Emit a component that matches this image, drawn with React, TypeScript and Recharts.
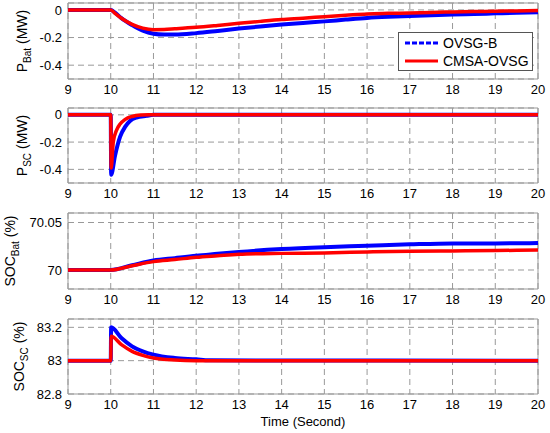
import React from 'react';
import { LineChart, Line, XAxis, YAxis, CartesianGrid, ReferenceArea, Legend } from 'recharts';

const FONT = '"Liberation Sans", Arial, sans-serif';
const BLUE = '#0000ff';
const RED = '#ff0000';

const seriesNames = ['OVSG-B', 'CMSA-OVSG'];
const timeTicks = [9, 10, 11, 12, 13, 14, 15, 16, 17, 18, 19, 20];

// battery power (MW)
const pBatTime = [9, 10, 10.1, 10.25, 10.5, 10.75, 11, 11.25, 11.5, 12, 12.5, 13, 13.5, 14, 14.5, 15, 15.5, 16, 16.5, 17, 17.5, 18, 18.5, 19, 19.5, 20];
const pBatOvsgB = [0, 0, -0.02, -0.06, -0.11, -0.15, -0.172, -0.178, -0.178, -0.168, -0.152, -0.135, -0.12, -0.106, -0.094, -0.083, -0.07, -0.058, -0.05, -0.044, -0.039, -0.034, -0.03, -0.025, -0.02, -0.017];
const pBatCmsa = [0, 0, -0.025, -0.06, -0.105, -0.132, -0.143, -0.142, -0.137, -0.126, -0.112, -0.097, -0.083, -0.07, -0.06, -0.049, -0.039, -0.029, -0.025, -0.022, -0.018, -0.015, -0.012, -0.01, -0.007, -0.005];

// supercapacitor power (MW)
const pScTimeB = [9, 10, 10.01, 10.1, 10.22, 10.34, 10.45, 10.6, 10.84, 11, 20];
const pScOvsgB = [0, 0, -0.44, -0.3, -0.16, -0.087, -0.045, -0.02, -0.007, 0, 0];
const pScTimeC = [9, 10, 10.01, 10.06, 10.14, 10.22, 10.34, 10.5, 10.7, 10.9, 20];
const pScCmsa = [0, 0, -0.39, -0.2, -0.11, -0.068, -0.033, -0.012, -0.002, 0, 0];

// battery state of charge (%)
const socBatTime = [9, 10, 10.5, 11, 11.5, 12, 12.5, 13, 14, 15, 16, 17, 18, 19, 20];
const socBatOvsgB = [70, 70, 70.005, 70.0099, 70.0125, 70.015, 70.017, 70.019, 70.022, 70.024, 70.0255, 70.027, 70.028, 70.028, 70.0285];
const socBatCmsa = [70, 70, 70.0045, 70.0088, 70.011, 70.0134, 70.015, 70.0165, 70.0175, 70.018, 70.019, 70.0197, 70.02, 70.0205, 70.021];

// supercapacitor state of charge (%)
const socScTimeB = [9, 10, 10.01, 10.25, 10.5, 10.75, 11, 11.5, 12, 12.3, 20];
const socScOvsgB = [83, 83, 83.2, 83.136, 83.086, 83.056, 83.036, 83.016, 83.008, 83.002, 83];
const socScTimeC = [9, 10, 10.01, 10.25, 10.5, 10.75, 11, 11.5, 12, 20];
const socScCmsa = [83, 83, 83.146, 83.096, 83.056, 83.032, 83.016, 83.004, 83, 83];

const powerTicks = [-0.4, -0.2, 0];
const socBatTicks = [70, 70.05];
const socScTicks = [82.8, 83, 83.2];

const rows = (t: number[], v: number[]) => t.map((x, i) => ({ t: x, v: v[i] }));

const axisLabel = (main: string, sub: string, unit: string, baseX: number) => (props: any) => {
  const vb = props.viewBox;
  const cx = vb.x + baseX;
  const cy = vb.y + vb.height / 2;
  return (
    <text x={cx} y={cy} transform={`rotate(-90 ${cx} ${cy})`} textAnchor="middle"
      fontSize={14} fontFamily={FONT} fill="#000">
      {main}
      <tspan fontSize={10} dy={4}>{sub}</tspan>
      <tspan dy={-4}>{'\u00a0' + unit}</tspan>
    </text>
  );
};

function LegendBox({ payload }: any) {
  // keep the plotting order, the library sorts entries by name
  const entries = [...(payload || [])].sort(
    (a: any, b: any) => seriesNames.indexOf(a.value) - seriesNames.indexOf(b.value),
  );
  return (
    <div style={{
      width: 135, height: 39, boxSizing: 'border-box', border: '1px solid #555',
      background: '#fff', padding: '1px 0 0 6px',
    }}>
      {entries.map((entry: any) => (
        <div key={entry.value} style={{
          display: 'flex', alignItems: 'center', height: 18,
          fontSize: 14, fontFamily: FONT, color: '#000',
        }}>
          <svg width={33} height={6} style={{ marginRight: 5 }}>
            <line x1={0} x2={33} y1={3} y2={3} stroke={entry.color} strokeWidth={3}
              strokeDasharray={entry.value === 'OVSG-B' ? '5 2' : undefined} />
          </svg>
          {entry.value}
        </div>
      ))}
    </div>
  );
}

interface PanelProps {
  top: number;
  plotHeight: number;
  xHeight: number;
  domain: [number, number];
  ticks: number[];
  label: (props: any) => React.ReactElement;
  blue: { t: number; v: number }[];
  red: { t: number; v: number }[];
  showLegend?: boolean;
  xLabel?: string;
}

function Panel({ top, plotHeight, xHeight, domain, ticks, label, blue, red, showLegend, xLabel }: PanelProps) {
  const tickStyle = { fill: '#000', fontSize: 13, fontFamily: FONT };
  return (
    <div style={{ position: 'absolute', left: 0, top }}>
      <LineChart width={550} height={3 + plotHeight + xHeight} margin={{ top: 3, right: 12, bottom: 0, left: 0 }}>
        <CartesianGrid stroke="#999" strokeDasharray="6 4" />
        <XAxis
          dataKey="t"
          type="number"
          domain={[9, 20]}
          ticks={timeTicks}
          interval={0}
          allowDataOverflow
          axisLine={false}
          tickLine={false}
          tickSize={6}
          tickMargin={0}
          tick={tickStyle}
          height={xHeight}
          label={xLabel ? {
            value: xLabel, position: 'insideBottom', offset: 6,
            fill: '#000', fontSize: 13, fontFamily: FONT,
          } : undefined}
        />
        <YAxis
          type="number"
          domain={domain}
          ticks={ticks}
          interval={0}
          allowDataOverflow
          axisLine={false}
          tickLine={false}
          tickSize={6}
          tickMargin={0}
          tick={tickStyle}
          tickFormatter={(v: number) => String(v)}
          width={68}
          label={label}
        />
        <ReferenceArea x1={9} x2={20} y1={domain[0]} y2={domain[1]} fill="none" stroke="#999" strokeWidth={1} ifOverflow="visible" />
        <Line data={blue} dataKey="v" name={seriesNames[0]} type="monotone" stroke={BLUE} strokeWidth={4}
          dot={false} activeDot={false} isAnimationActive={false} />
        <Line data={red} dataKey="v" name={seriesNames[1]} type="monotone" stroke={RED} strokeWidth={3.5}
          dot={false} activeDot={false} isAnimationActive={false} />
        {showLegend && (
          <Legend layout="vertical" align="center" verticalAlign="middle"
            wrapperStyle={{ left: 398, top: 32, width: 135, height: 39 }}
            content={<LegendBox />} />
        )}
      </LineChart>
    </div>
  );
}

export default function App() {
  return (
    <div style={{ position: 'absolute', left: 0, top: 0, width: 550, height: 433, background: '#fff', overflow: 'hidden' }}>
      <Panel top={0} plotHeight={76} xHeight={24} domain={[-0.5, 0.05]} ticks={powerTicks}
        label={axisLabel('P', 'Bat', '(MW)', 27)}
        blue={rows(pBatTime, pBatOvsgB)} red={rows(pBatTime, pBatCmsa)} showLegend />
      <Panel top={105} plotHeight={75} xHeight={24} domain={[-0.5, 0.05]} ticks={powerTicks}
        label={axisLabel('P', 'SC', '(MW)', 27)}
        blue={rows(pScTimeB, pScOvsgB)} red={rows(pScTimeC, pScCmsa)} />
      <Panel top={210} plotHeight={76} xHeight={24} domain={[69.98, 70.06]} ticks={socBatTicks}
        label={axisLabel('SOC', 'Bat', '(%)', 15)}
        blue={rows(socBatTime, socBatOvsgB)} red={rows(socBatTime, socBatCmsa)} />
      <Panel top={316} plotHeight={75} xHeight={38} domain={[82.8, 83.25]} ticks={socScTicks}
        label={axisLabel('SOC', 'SC', '(%)', 24)}
        blue={rows(socScTimeB, socScOvsgB)} red={rows(socScTimeC, socScCmsa)} xLabel="Time (Second)" />
    </div>
  );
}
